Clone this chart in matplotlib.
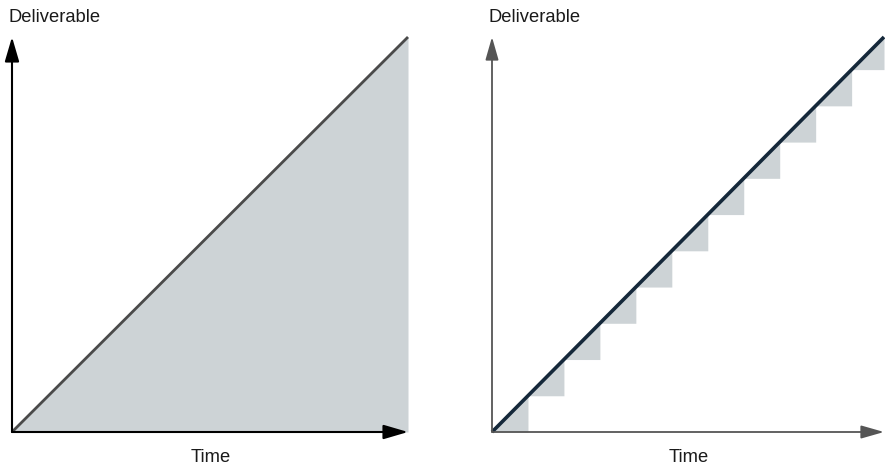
import matplotlib.pyplot as plt
import numpy as np

plt.rcParams['font.family'] = ['Liberation Sans', 'DejaVu Sans']

# ------------------------------------------------------------
# Data
# ------------------------------------------------------------
time_end = 10.9                      # right end of both time axes (step units)
left_time = [0, time_end]
left_deliverable = [0, time_end]     # continuous delivery: straight diagonal
right_time = [0, time_end]
right_deliverable = [0, time_end]
step_starts = list(range(0, 11))     # incremental deliveries, one per unit of time
axis_labels = ("Time", "Deliverable")

FILL = "#cdd3d6"

fig = plt.figure(figsize=(8.85, 4.7), dpi=100)
W, H = 885, 470


def make_axes(x0, x1, y0, y1):
    # pixel box -> figure fraction (y measured from top)
    ax = fig.add_axes([x0 / W, (H - y0) / H, (x1 - x0) / W, (y0 - y1) / H])
    ax.set_xlim(0, time_end)
    ax.set_ylim(0, time_end)
    ax.axis("off")
    return ax


def draw_axes(ax, color, lw, hl, hw):
    style = f"-|>,head_length={hl},head_width={hw}"
    for tip in [(time_end, 0), (0, time_end)]:
        ax.annotate("", xy=tip, xytext=(0, 0),
                    arrowprops=dict(arrowstyle=style, color=color, lw=lw,
                                    shrinkA=0, shrinkB=0, mutation_scale=20),
                    annotation_clip=False, zorder=5)


# ------------------------------------------------------------
# Left: continuous
# ------------------------------------------------------------
axl = make_axes(12, 408, 432, 37)
xs = np.array(left_time, dtype=float)
axl.fill_between(xs, np.array(left_deliverable), 0, color=FILL, lw=0, zorder=1)
axl.plot(left_time, left_deliverable, color="#4a4a4a", lw=2, zorder=3,
         clip_on=False, solid_capstyle="butt")
draw_axes(axl, "black", 1.5, 0.75, 0.22)

# ------------------------------------------------------------
# Right: stepped
# ------------------------------------------------------------
axr = make_axes(492, 884, 432, 37)
for s in step_starts:
    seg = np.array([s, min(s + 1, time_end)], dtype=float)
    axr.fill_between(seg, seg, s, color=FILL, lw=0, zorder=1)
axr.plot(right_time, right_deliverable, color="#15283a", lw=2.6, zorder=3,
         clip_on=False, solid_capstyle="butt")
draw_axes(axr, "#555555", 1.3, 0.7, 0.2)

# ------------------------------------------------------------
# Labels
# ------------------------------------------------------------
for x_lab, x_mid in [(8, 211), (488, 689)]:
    fig.text(x_lab / W, 1 - 17 / H, axis_labels[1], fontsize=13.2,
             ha="left", va="center", color="#1a1a1a")
    fig.text(x_mid / W, 1 - 457 / H, axis_labels[0], fontsize=13.2,
             ha="center", va="center", color="#1a1a1a")

fig.savefig("out.png", dpi=100)
